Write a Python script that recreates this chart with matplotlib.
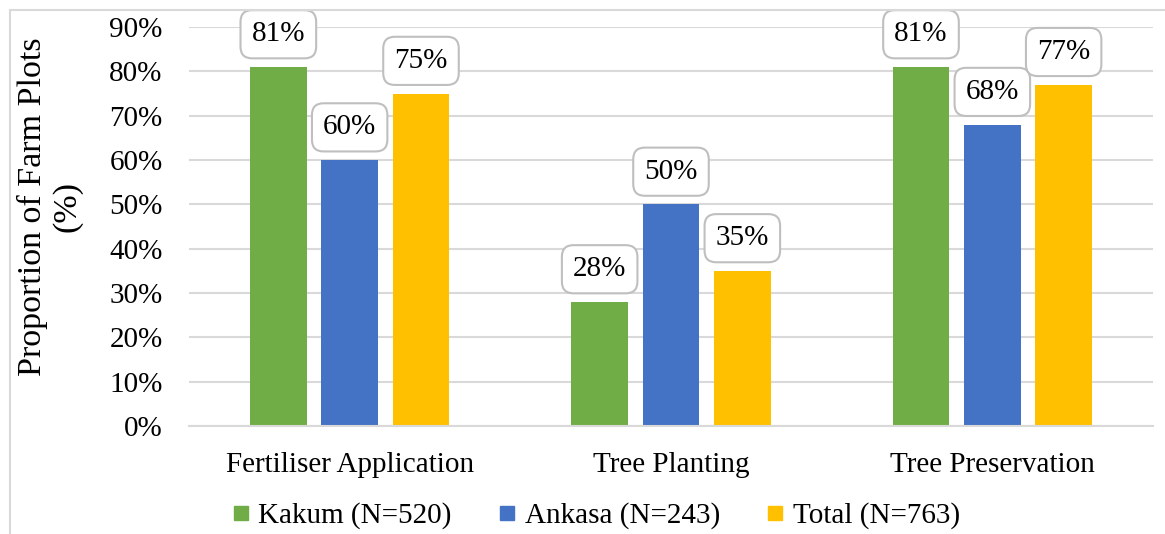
import matplotlib.pyplot as plt
from matplotlib.lines import Line2D
import numpy as np

plt.rcParams['font.family'] = ['Liberation Serif', 'DejaVu Serif']

categories = ['Fertiliser Application', 'Tree Planting', 'Tree Preservation']
kakum = [81, 28, 81]
ankasa = [60, 50, 68]
total = [75, 35, 77]
series_names = ['Kakum (N=520)', 'Ankasa (N=243)', 'Total (N=763)']
colors = ['#70AD47', '#4472C4', '#FFC000']

fig = plt.figure(figsize=(11.65, 5.34), dpi=100)
ax = fig.add_axes([189 / 1165, 1 - 426 / 534, 964 / 1165, 399 / 534])

x = np.arange(len(categories))
offset = 0.222
width = 0.177
for i, (vals, c) in enumerate(zip([kakum, ankasa, total], colors)):
    xs = x + (i - 1) * offset
    ax.bar(xs, np.array(vals) / 100, width=width, color=c, zorder=2)
    for xi, v in zip(xs, vals):
        ax.annotate(f'{v}%', (xi, v / 100), xytext=(0, 23.5), textcoords='offset points',
                    ha='center', va='center', fontsize=21, zorder=4,
                    bbox=dict(boxstyle='round,pad=0.38,rounding_size=0.4',
                              fc='white', ec='#BFBFBF', lw=1.5))

ax.set_xlim(-0.5, 2.5)
ax.set_ylim(0, 0.9)
ax.set_yticks(np.arange(0, 0.91, 0.1))
ax.set_yticklabels([f'{int(round(t * 100))}%' for t in np.arange(0, 0.91, 0.1)], fontsize=21)
ax.set_xticks(x)
ax.set_xticklabels(categories, fontsize=21)
ax.tick_params(length=0)
ax.tick_params(axis='x', pad=19)
ax.tick_params(axis='y', pad=19)
ax.grid(axis='y', color='#D9D9D9', lw=1.5, zorder=0)
for s in ['top', 'right', 'left']:
    ax.spines[s].set_visible(False)
ax.spines['bottom'].set_color('#D9D9D9')
ax.spines['bottom'].set_linewidth(1.5)

fig.text(32 / 1165, 1 - 207 / 534, 'Proportion of Farm Plots', rotation=90,
         ha='center', va='center', fontsize=24.5)
fig.text(67 / 1165, 1 - 207 / 534, '(%)', rotation=90,
         ha='center', va='center', fontsize=24.5)

handles = [Line2D([], [], marker='s', ls='', color=c, markersize=10) for c in colors]
fig.legend(handles, series_names, loc='center', bbox_to_anchor=(596 / 1165, 1 - 516 / 534),
           ncol=3, frameon=False, fontsize=21, handlelength=0.6, handletextpad=0.3,
           columnspacing=1.6)

# outer chart frame (only top and left edges are visible)
fig.add_artist(Line2D([10 / 1165, 1], [1 - 10 / 534, 1 - 10 / 534], color='#D9D9D9', lw=1.5))
fig.add_artist(Line2D([10 / 1165, 10 / 1165], [0, 1 - 10 / 534], color='#D9D9D9', lw=1.5))

fig.savefig('out.png', dpi=100)
